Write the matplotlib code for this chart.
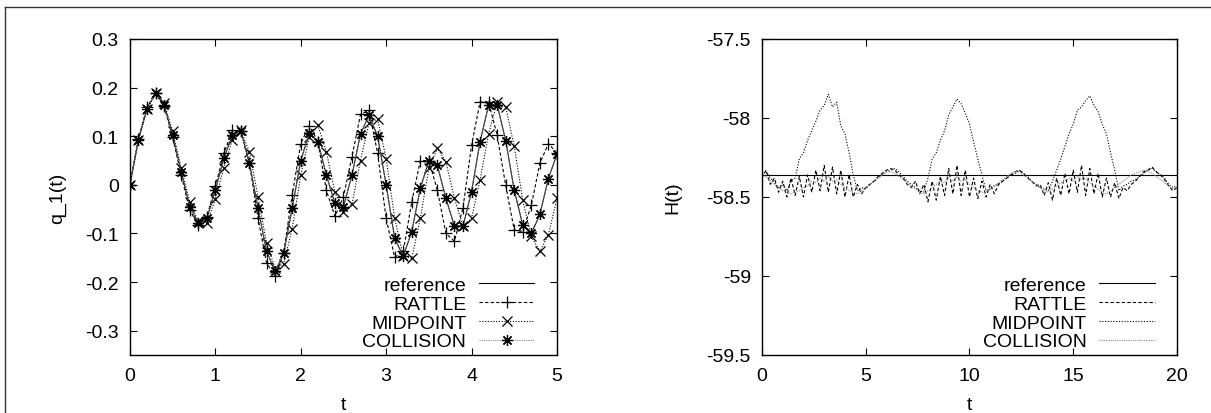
import numpy as np
import matplotlib
matplotlib.use('Agg')
import matplotlib.pyplot as plt
from matplotlib.lines import Line2D

plt.rcParams['font.family'] = ['Liberation Sans', 'DejaVu Sans']
plt.rcParams['font.size'] = 14

# ================================
# DATA: left panel, q_1(t)
# ================================
t_q = np.round(np.arange(0, 5.01, 0.1), 1)

ref_q = [0.000, 0.093, 0.157, 0.188, 0.164, 0.102, 0.027, -0.045, -0.078, -0.069,
         -0.011, 0.055, 0.102, 0.110, 0.044, -0.048, -0.137, -0.178, -0.141, -0.048,
         0.050, 0.106, 0.089, 0.020, -0.038, -0.045, 0.020, 0.105, 0.143, 0.100,
         0.000, -0.110, -0.147, -0.096, -0.007, 0.049, 0.040, -0.028, -0.085, -0.085,
         -0.014, 0.089, 0.164, 0.165, 0.091, -0.011, -0.083, -0.100, -0.061, 0.013,
         0.063]

rattle_q = [0.000, 0.095, 0.160, 0.188, 0.162, 0.098, 0.020, -0.052, -0.083, -0.066,
            -0.003, 0.065, 0.112, 0.110, 0.044, -0.069, -0.161, -0.188, -0.140, -0.021,
            0.085, 0.122, 0.089, -0.011, -0.065, -0.024, 0.058, 0.145, 0.153, 0.065,
            -0.069, -0.149, -0.137, -0.035, 0.050, 0.050, -0.011, -0.100, -0.116, -0.047,
            0.081, 0.171, 0.170, 0.102, -0.001, -0.093, -0.096, -0.042, 0.044, 0.085,
            0.065]

midpoint_q = [0.000, 0.093, 0.155, 0.188, 0.168, 0.110, 0.035, -0.035, -0.075, -0.078,
              -0.030, 0.035, 0.093, 0.112, 0.067, -0.025, -0.120, -0.172, -0.162, -0.090,
              0.020, 0.098, 0.123, 0.068, -0.015, -0.055, -0.040, 0.050, 0.128, 0.135,
              0.054, -0.069, -0.147, -0.151, -0.069, 0.034, 0.075, 0.048, -0.028, -0.085,
              -0.069, 0.010, 0.105, 0.170, 0.160, 0.079, -0.032, -0.106, -0.137, -0.103,
              -0.028]

collision_q = [0.000, 0.093, 0.157, 0.188, 0.164, 0.102, 0.027, -0.045, -0.078, -0.069,
               -0.011, 0.055, 0.102, 0.110, 0.044, -0.048, -0.137, -0.178, -0.141, -0.048,
               0.050, 0.106, 0.089, 0.020, -0.038, -0.045, 0.020, 0.105, 0.143, 0.100,
               0.000, -0.110, -0.147, -0.096, -0.007, 0.049, 0.040, -0.028, -0.085, -0.085,
               -0.014, 0.089, 0.164, 0.165, 0.091, -0.011, -0.083, -0.100, -0.061, 0.013,
               0.063]

# ================================
# DATA: right panel, H(t)
# ================================
t_h = np.round(np.arange(0, 20.01, 0.2), 1)
t_ref_h = [0, 20]
ref_h = [-58.36, -58.36]

rattle_h = [-58.38, -58.33, -58.42, -58.38, -58.47, -58.40, -58.50, -58.38, -58.49, -58.37,
            -58.50, -58.36, -58.47, -58.33, -58.46, -58.30, -58.47, -58.31, -58.48, -58.33,
            -58.50, -58.36, -58.50, -58.42, -58.48, -58.44, -58.42, -58.40, -58.37, -58.35,
            -58.33, -58.32, -58.33, -58.36, -58.38, -58.42, -58.44, -58.40, -58.48, -58.42,
            -58.53, -58.40, -58.52, -58.37, -58.49, -58.32, -58.48, -58.30, -58.49, -58.33,
            -58.50, -58.38, -58.51, -58.40, -58.50, -58.42, -58.48, -58.42, -58.40, -58.38,
            -58.36, -58.34, -58.33, -58.35, -58.38, -58.40, -58.43, -58.42, -58.49, -58.41,
            -58.52, -58.38, -58.49, -58.35, -58.48, -58.33, -58.47, -58.30, -58.49, -58.32,
            -58.48, -58.35, -58.50, -58.38, -58.50, -58.41, -58.51, -58.44, -58.46, -58.42,
            -58.40, -58.37, -58.34, -58.33, -58.31, -58.34, -58.36, -58.39, -58.43, -58.46,
            -58.44]

midpoint_h = [-58.36, -58.34, -58.38, -58.41, -58.44, -58.42, -58.46, -58.40, -58.38, -58.26,
              -58.22, -58.14, -58.08, -58.02, -57.95, -57.92, -57.85, -57.93, -57.90, -58.05,
              -58.10, -58.22, -58.36, -58.46, -58.44, -58.45, -58.42, -58.40, -58.38, -58.36,
              -58.34, -58.33, -58.32, -58.34, -58.37, -58.40, -58.42, -58.44, -58.46, -58.47,
              -58.38, -58.26, -58.22, -58.14, -58.08, -57.98, -57.93, -57.88, -57.91, -57.97,
              -58.04, -58.15, -58.26, -58.36, -58.46, -58.45, -58.43, -58.42, -58.40, -58.38,
              -58.36, -58.35, -58.33, -58.35, -58.37, -58.40, -58.42, -58.44, -58.45, -58.46,
              -58.40, -58.33, -58.26, -58.18, -58.10, -58.04, -57.95, -57.93, -57.89, -57.86,
              -57.92, -57.96, -58.04, -58.10, -58.22, -58.33, -58.46, -58.43, -58.42, -58.40,
              -58.39, -58.37, -58.35, -58.33, -58.32, -58.34, -58.36, -58.38, -58.42, -58.44,
              -58.43]

collision_h = [-58.35, -58.37, -58.40, -58.42, -58.44, -58.46, -58.47, -58.48, -58.47, -58.46,
               -58.44, -58.43, -58.40, -58.41, -58.38, -58.40, -58.37, -58.40, -58.39, -58.42,
               -58.44, -58.46, -58.47, -58.48, -58.46, -58.44, -58.42, -58.40, -58.38, -58.36,
               -58.34, -58.34, -58.35, -58.37, -58.39, -58.41, -58.43, -58.45, -58.47, -58.48,
               -58.46, -58.44, -58.42, -58.40, -58.41, -58.38, -58.40, -58.37, -58.40, -58.39,
               -58.42, -58.44, -58.46, -58.47, -58.47, -58.45, -58.43, -58.41, -58.39, -58.37,
               -58.35, -58.34, -58.34, -58.36, -58.38, -58.40, -58.42, -58.44, -58.46, -58.47,
               -58.45, -58.43, -58.41, -58.40, -58.38, -58.40, -58.37, -58.39, -58.38, -58.41,
               -58.43, -58.45, -58.47, -58.48, -58.46, -58.44, -58.42, -58.40, -58.38, -58.36,
               -58.35, -58.34, -58.33, -58.34, -58.35, -58.37, -58.39, -58.41, -58.43, -58.45,
               -58.44]

labels = ['reference', 'RATTLE', 'MIDPOINT', 'COLLISION']

# ================================
# FIGURE
# ================================
fig = plt.figure(figsize=(12.11, 4.14), dpi=100)
ax1 = fig.add_axes([0.1073, 0.1401, 0.3526, 0.7633])
ax2 = fig.add_axes([0.6292, 0.1401, 0.3427, 0.7633])

# outer frame (top and left edges visible)
fig.add_artist(Line2D([0.004, 1.0], [0.981, 0.981], transform=fig.transFigure, color='#333333', lw=1.0))
fig.add_artist(Line2D([0.004, 0.004], [0.0, 0.981], transform=fig.transFigure, color='#333333', lw=1.0))

lw = 0.8
ms = 8
ast = (8, 2, 0)

ax1.plot(t_q, ref_q, color='black', lw=lw, label=labels[0])
ax1.plot(t_q, rattle_q, color='black', lw=lw, ls=(0, (3, 2)), marker='+', ms=ms, mew=0.9, label=labels[1])
ax1.plot(t_q, midpoint_q, color='black', lw=lw, ls=(0, (1, 1.5)), marker='x', ms=ms - 1, mew=0.9, label=labels[2])
ax1.plot(t_q, collision_q, color='#888888', lw=lw, ls=(0, (1, 1)), marker=ast, ms=ms, mew=0.9,
         mec='black', label=labels[3])

ax2.plot(t_ref_h, ref_h, color='black', lw=lw, label=labels[0])
ax2.plot(t_h, rattle_h, color='black', lw=lw, ls=(0, (3, 2)), label=labels[1])
ax2.plot(t_h, midpoint_h, color='black', lw=lw, ls=(0, (1, 1.5)), label=labels[2])
ax2.plot(t_h, collision_h, color='#888888', lw=lw, ls=(0, (1, 1)), label=labels[3])

ax1.set_xlim(0, 5)
ax1.set_ylim(-0.35, 0.3)
ax1.set_xticks([0, 1, 2, 3, 4, 5])
ax1.set_yticks([-0.3, -0.2, -0.1, 0, 0.1, 0.2, 0.3])
ax1.set_yticklabels(['-0.3', '-0.2', '-0.1', '0', '0.1', '0.2', '0.3'])
ax1.set_xlabel('t', labelpad=8)
ax1.set_ylabel('q_1(t)', labelpad=14)

ax2.set_xlim(0, 20)
ax2.set_ylim(-59.5, -57.5)
ax2.set_xticks([0, 5, 10, 15, 20])
ax2.set_yticks([-59.5, -59, -58.5, -58, -57.5])
ax2.set_yticklabels(['-59.5', '-59', '-58.5', '-58', '-57.5'])
ax2.set_xlabel('t', labelpad=8)
ax2.set_ylabel('H(t)', labelpad=18)

for ax in (ax1, ax2):
    ax.tick_params(direction='in', top=True, right=True, length=5, width=0.8)
    ax.tick_params(axis='x', pad=9)
    ax.tick_params(axis='y', pad=8)
    for sp in ax.spines.values():
        sp.set_linewidth(1.0)
    ax.legend(loc='lower right', bbox_to_anchor=(0.965, -0.01), frameon=False, markerfirst=False,
              handlelength=2.85, labelspacing=0.06, handletextpad=0.65, borderaxespad=0.0, fontsize=14)

plt.savefig('out.png', dpi=100)
